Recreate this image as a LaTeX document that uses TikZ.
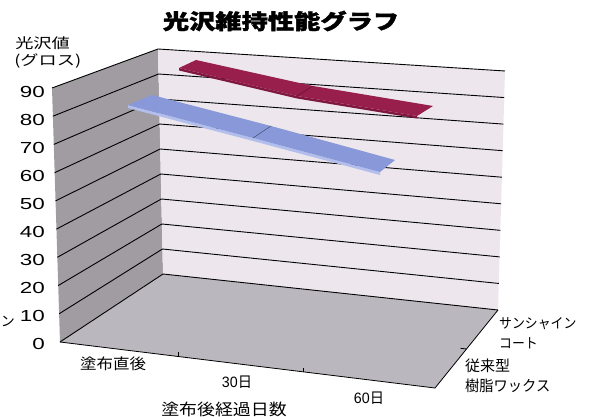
\documentclass[tikz,border=0pt]{standalone}
\usepackage{fontspec}
\setmainfont{Liberation Sans}
\newfontfamily\cjk{Noto Sans CJK JP}
\newfontfamily\cjkheavy{Noto Sans CJK JP}[BoldFeatures={FakeBold=1.5}]
\usetikzlibrary{calc}
\definecolor{backwall}{RGB}{237,231,237}
\definecolor{sidewall}{RGB}{160,156,162}
\definecolor{floorc}{RGB}{187,183,191}
\definecolor{maroontop}{RGB}{152,30,76}
\definecolor{maroonside}{RGB}{128,24,62}
\definecolor{bluetop}{RGB}{136,152,216}
\definecolor{blueside}{RGB}{178,190,236}
\begin{document}
\begin{tikzpicture}[x=1pt,y=-1pt,
  gridline/.style={black,line width=0.9pt},
  axisline/.style={black,line width=0.8pt},
  ylab/.style={anchor=east,inner sep=0,xscale=1.4,font=\fontsize{16}{18}\selectfont},
  jlab/.style={inner sep=0},
]
\useasboundingbox (0,0) rectangle (592,417);
\fill[white] (0,0) rectangle (592,417);
% corners
\coordinate (A) at (52,88);
\coordinate (B) at (60,342);
\coordinate (C) at (158,49);
\coordinate (D) at (163,274);
\coordinate (E) at (505,71);
\coordinate (F) at (498,310);
\coordinate (G) at (435,388);
% walls and floor
\fill[sidewall] (A) -- (C) -- (D) -- (B) -- cycle;
\fill[backwall] (C) -- (E) -- (F) -- (D) -- cycle;
\fill[floorc] (B) -- (D) -- (F) -- (G) -- cycle;
% grid lines
\foreach \v in {0,...,9}{
  \draw[gridline] ($(B)!\v/9!(A)$) -- ($(D)!\v/9!(C)$) -- ($(F)!\v/9!(E)$);
}
% axes
\draw[axisline] (B) -- (G) -- (F);
\draw[axisline] ($(B)!0.315!(G)$) -- ++(0,-4);
\draw[axisline] ($(B)!0.648!(G)$) -- ++(0,-4);
\draw[axisline] ($(G)!0.5!(F)$) -- ++(-6,-0.7);
% maroon ribbon (back series)
\fill[maroonside] (179,68) -- (297,96) -- (417,116) -- (417,118.5) -- (297,98.5) -- (179,70.5) -- cycle;
\fill[maroontop] (179,68) -- (297,96) -- (417,116) -- (433,106) -- (313,86) -- (196,60) -- cycle;
\draw[maroonside!70!black,line width=0.5pt] (297,96) -- (313,86);
% blue ribbon (front series)
\fill[blueside] (128,105) -- (253,138) -- (380,172) -- (380,175) -- (253,141) -- (128,108) -- cycle;
\fill[bluetop] (128,105) -- (253,138) -- (380,172) -- (395,160) -- (271,126) -- (152,95) -- cycle;
\draw[bluetop!50!black,line width=0.5pt] (253,138) -- (271,126);
% title
\node[jlab,xscale=1.25,font=\fontsize{21}{24}\selectfont\cjkheavy\bfseries] (title) at (281,21) {光沢維持性能グラフ};
% y axis title
\node[jlab,anchor=west,xscale=1.3,font=\fontsize{14}{16}\selectfont\cjk] (ytitle1) at (15,43) {光沢値};
\node[jlab,anchor=west,xscale=1.3,font=\fontsize{14}{16}\selectfont\cjk] (ytitle2) at (14,61) {(グロス)};
% y tick labels
\foreach \v/\t in {0/0,1/10,2/20,3/30,4/40,5/50,6/60,7/70,8/80,9/90}{
  \node[ylab] (y\v) at (45,{344-28*\v}) {\t};
}
% x labels
\node[jlab,xscale=1.1,font=\fontsize{15}{17}\selectfont\cjk] (x1) at (113,364) {塗布直後};
\node[jlab,xscale=0.95,font=\fontsize{15}{17}\selectfont] (x2) at (237,382) {30{\cjk 日}};
\node[jlab,xscale=0.95,font=\fontsize{15}{17}\selectfont] (x3) at (369,398) {60{\cjk 日}};
\node[jlab,xscale=1.12,font=\fontsize{16}{18}\selectfont\cjk] (xtitle) at (224,409) {塗布後経過日数};
% series labels
\node[jlab,anchor=west,xscale=0.92,font=\fontsize{14}{16}\selectfont\cjk] (s1a) at (499,324) {サンシャイン};
\node[jlab,anchor=west,xscale=0.92,font=\fontsize{14}{16}\selectfont\cjk] (s1b) at (499,343) {コート};
\node[jlab,anchor=west,font=\fontsize{15}{17}\selectfont\cjk] (s2a) at (465,366) {従来型};
\node[jlab,anchor=west,xscale=0.95,font=\fontsize{15}{17}\selectfont\cjk] (s2b) at (465,386) {樹脂ワックス};
% label fragment at left edge (as in the reference)
\node[jlab,anchor=east,font=\fontsize{14}{16}\selectfont\cjk] (cut) at (15,322) {ン};
\end{tikzpicture}
\end{document}
